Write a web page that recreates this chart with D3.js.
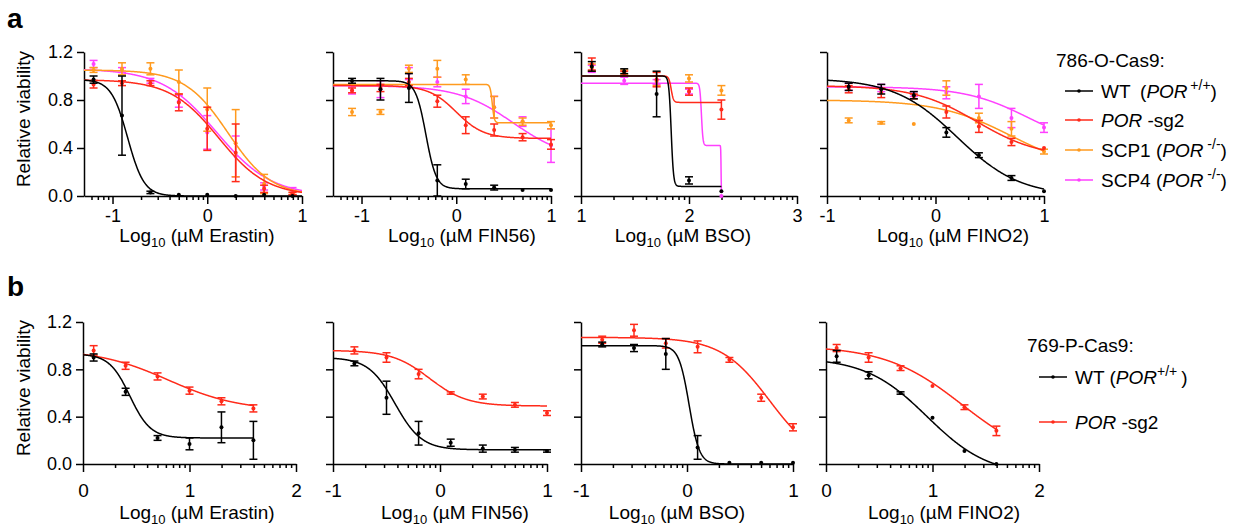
<!DOCTYPE html>
<meta charset="utf-8">
<script src="https://d3js.org/d3.v7.min.js"></script>
<style>
body { margin: 0; background: #fff; }
text { font-family: "Liberation Sans", Arial, sans-serif; fill: #000; }
.axis path, .axis line { stroke: #000; stroke-width: 1.5px; }
.axis text { font-family: "Liberation Sans", Arial, sans-serif; font-size: 18px; fill: #000; }
.curve { fill: none; stroke-width: 1.5px; }
.bar { stroke-width: 1.5px; }
</style>
<body>
<script>

// series names and colours
var seriesNames = ["WT", "POR-sg2", "SCP1", "SCP4"];
var seriesColors = ["#000000", "#ff2a1a", "#ff9a1e", "#ff40ff"];
var yTicks = [0, 0.4, 0.8, 1.2];

// ---- a: 786-O-Cas9, Erastin ----
var a1X = [-1.2, -0.9, -0.6, -0.3, 0, 0.3, 0.6, 0.9];
var a1Mean = [
  [0.97, 0.67, 0.03, 0.01, 0.01, 0.0, 0.01, 0.0],
  [0.93, 0.94, 0.94, 0.78, 0.56, 0.36, 0.06, 0.02],
  [1.05, 1.06, 1.06, 0.95, 0.72, 0.44, 0.10, 0.02],
  [1.10, 1.05, 0.96, 0.79, 0.53, 0.33, 0.08, 0.04]];
var a1Sd = [
  [0.03, 0.33, 0.01, 0, 0, 0, 0, 0],
  [0.03, 0.02, 0.02, 0.07, 0.18, 0.24, 0.03, 0.01],
  [0.02, 0.05, 0.05, 0.10, 0.18, 0.28, 0.08, 0.01],
  [0.03, 0.02, 0.02, 0.05, 0.14, 0.17, 0.03, 0.03]];
// top, bottom, logEC50, hill
var a1Fit = [[0.97, 0, -0.84, 5], [0.97, 0, 0.12, 1.7], [1.05, 0, 0.22, 1.9], [1.06, 0, 0.1, 1.5]];

// ---- a: FIN56 ----
var a2X = [-1.1, -0.8, -0.5, -0.2, 0.1, 0.4, 0.7, 1.0];
var a2Mean = [
  [0.96, 0.89, 0.90, 0.13, 0.10, 0.07, 0.05, 0.05],
  [0.88, 0.90, 0.95, 0.79, 0.59, 0.55, 0.49, 0.43],
  [0.70, 0.70, 1.06, 1.06, 0.97, 0.74, 0.62, 0.59],
  [0.88, 0.89, 1.02, 0.95, 0.83, 0.74, 0.62, 0.42]];
var a2Sd = [
  [0.02, 0.09, 0.12, 0.13, 0.04, 0.02, 0, 0],
  [0.02, 0.03, 0.03, 0.05, 0.07, 0.05, 0.03, 0.04],
  [0.03, 0.02, 0.03, 0.07, 0.04, 0.09, 0.03, 0.03],
  [0.03, 0.07, 0.05, 0.04, 0.06, 0.09, 0.04, 0.14]];
var a2Fit = [[0.96, 0.06, -0.32, 8], [0.92, 0.48, 0.0, 3], [0.93, 0.61, 0.38, 40], [0.92, 0.3, 0.6, 1.5]];

// ---- a: BSO ----
var a3X = [1.1, 1.4, 1.7, 2.0, 2.3];
var a3Mean = [
  [1.08, 1.04, 0.85, 0.13, 0.04],
  [1.10, 1.02, 0.97, 0.87, 0.72],
  [1.07, 1.03, 0.96, 0.98, 0.88],
  [1.06, 0.96, 0.95, 0.87, 0.0]];
var a3Sd = [
  [0.04, 0.02, 0.19, 0.03, 0],
  [0.05, 0.02, 0.06, 0.03, 0.08],
  [0.03, 0.02, 0.04, 0.03, 0.04],
  [0.03, 0.03, 0.02, 0.02, 0]];
// SCP1 not fitted; SCP4 biphasic: top, bottom, ec1, h1, fraction, ec2, h2
var a3Fit = [[1.0, 0.08, 1.835, 40], [1.0, 0.78, 1.835, 40], null, [0.94, 0, 2.115, 60, 0.553, 2.297, 300]];

// ---- a: FINO2 ----
var a4X = [-0.8, -0.5, -0.2, 0.1, 0.4, 0.7, 1.0];
var a4Mean = [
  [0.91, 0.89, 0.84, 0.53, 0.34, 0.15, 0.04],
  [0.89, 0.86, 0.83, 0.70, 0.58, 0.45, 0.40],
  [0.63, 0.61, 0.60, 0.90, 0.65, 0.56, 0.37],
  [0.91, 0.90, 0.85, 0.86, 0.83, 0.65, 0.57]];
var a4Sd = [
  [0.03, 0.04, 0.03, 0.04, 0.02, 0.02, 0],
  [0.03, 0.04, 0.02, 0.05, 0.05, 0.03, 0],
  [0.02, 0.01, 0, 0.06, 0.04, 0.06, 0.02],
  [0.03, 0.03, 0.02, 0.05, 0.10, 0.08, 0.04]];
var a4Fit = [[0.98, 0, 0.2, 1.5], [0.92, 0.32, 0.38, 1.5], [0.8, 0.2, 0.7, 1.3], [0.91, 0.4, 0.85, 1.5]];

// ---- b: 769-P-Cas9 ----
var b1X = [0.1, 0.4, 0.7, 1.0, 1.3, 1.6];
var b1Mean = [[0.90, 0.61, 0.22, 0.17, 0.31, 0.20], [0.96, 0.83, 0.74, 0.62, 0.53, 0.47]];
var b1Sd = [[0.03, 0.03, 0.02, 0.05, 0.13, 0.16], [0.04, 0.03, 0.03, 0.03, 0.03, 0.03]];
var b1Fit = [[0.93, 0.22, 0.44, 4.5], [0.97, 0.45, 0.8, 1.3]];

var b2X = [-0.8, -0.5, -0.2, 0.1, 0.4, 0.7, 1.0];
var b2Mean = [[0.85, 0.56, 0.26, 0.18, 0.13, 0.12, 0.11], [0.96, 0.90, 0.76, 0.60, 0.57, 0.50, 0.43]];
var b2Sd = [[0.02, 0.14, 0.10, 0.03, 0.03, 0.02, 0.01], [0.03, 0.04, 0.04, 0.01, 0.02, 0.02, 0.02]];
var b2Fit = [[0.9, 0.12, -0.42, 3.5], [0.96, 0.49, -0.1, 2.5]];

var b3X = [-0.8, -0.5, -0.2, 0.1, 0.4, 0.7, 1.0];
var b3Mean = [[1.01, 0.98, 0.93, 0.14, 0.01, 0.01, 0.01], [1.05, 1.13, 1.02, 0.99, 0.88, 0.56, 0.31]];
var b3Sd = [[0.02, 0.03, 0.13, 0.10, 0, 0, 0], [0.03, 0.05, 0.04, 0.05, 0.02, 0.03, 0.03]];
var b3Fit = [[1.0, 0, 0.02, 9], [1.07, 0, 0.78, 1.9]];

var b4X = [0.1, 0.4, 0.7, 1.0, 1.3, 1.6];
var b4Mean = [[0.91, 0.75, 0.60, 0.39, 0.11, 0.0], [0.98, 0.90, 0.81, 0.66, 0.48, 0.28]];
var b4Sd = [[0.05, 0.03, 0.01, 0, 0, 0], [0.03, 0.04, 0.02, 0, 0.02, 0.04]];
var b4Fit = [[0.9, -0.1, 0.95, 1.5], [1.0, 0, 1.28, 1.2]];

var rows = [{top: 52, bottom: 196, tickBase: 222, titleBase: 242, tickFont: 18},
            {top: 322, bottom: 464, tickBase: 497, titleBase: 519, tickFont: 19}];

var panels = [
  {row: 0, x0: 84, x1: 302, dom: [-1.301, 1], fit: [-1.301, 1], majors: [-1, 0, 1], drug: "Erastin", tx: 197, xs: a1X, mean: a1Mean, sd: a1Sd, fits: a1Fit},
  {row: 0, x0: 333, x1: 551, dom: [-1.301, 1], fit: [-1.301, 1], majors: [-1, 0, 1], drug: "FIN56", tx: 462, xs: a2X, mean: a2Mean, sd: a2Sd, fits: a2Fit},
  {row: 0, x0: 581, x1: 797, dom: [1, 3], fit: [1, 2.3], majors: [1, 2, 3], drug: "BSO", tx: 683, xs: a3X, mean: a3Mean, sd: a3Sd, fits: a3Fit},
  {row: 0, x0: 827, x1: 1044, dom: [-1, 1], fit: [-1, 1], majors: [-1, 0, 1], drug: "FINO2", tx: 953, xs: a4X, mean: a4Mean, sd: a4Sd, fits: a4Fit},
  {row: 1, x0: 83, x1: 296, dom: [0, 2], fit: [0, 1.6], majors: [0, 1, 2], drug: "Erastin", tx: 197, xs: b1X, mean: b1Mean, sd: b1Sd, fits: b1Fit},
  {row: 1, x0: 333, x1: 547, dom: [-1, 1], fit: [-1, 1], majors: [-1, 0, 1], drug: "FIN56", tx: 455, xs: b2X, mean: b2Mean, sd: b2Sd, fits: b2Fit},
  {row: 1, x0: 581, x1: 793, dom: [-1, 1], fit: [-1, 1], majors: [-1, 0, 1], drug: "BSO", tx: 677, xs: b3X, mean: b3Mean, sd: b3Sd, fits: b3Fit},
  {row: 1, x0: 826, x1: 1039, dom: [0, 2], fit: [0, 1.6], majors: [0, 1, 2], drug: "FINO2", tx: 944, xs: b4X, mean: b4Mean, sd: b4Sd, fits: b4Fit}
];

var width = 1240, height = 529;
var svg = d3.select("body").append("svg")
    .attr("width", width)
    .attr("height", height);

function model(p, x) {
  if (p.length == 4)
    return p[1] + (p[0] - p[1]) / (1 + Math.pow(10, (x - p[2]) * p[3]));
  // biphasic
  return p[1] + (p[0] - p[1]) * (p[4] / (1 + Math.pow(10, (x - p[2]) * p[3])) +
         (1 - p[4]) / (1 + Math.pow(10, (x - p[5]) * p[6])));
}

function minorTicks(dom) {
  var out = [];
  for (var d = Math.floor(dom[0]) - 1; d <= Math.ceil(dom[1]); d++) {
    for (var k = 2; k <= 9; k++) {
      var v = d + Math.log10(k);
      if (v >= dom[0] - 1e-6 && v <= dom[1] + 1e-6) out.push(v);
    }
  }
  return out;
}

panels.forEach(function(p, pi) {
  var r = rows[p.row];
  var x = d3.scaleLinear().domain(p.dom).range([p.x0, p.x1]);
  var y = d3.scaleLinear().domain([0, 1.2]).range([r.bottom, r.top]).clamp(true);
  var g = svg.append("g");
  var first = (pi % 4 == 0);

  // y axis
  g.append("g").attr("class", "axis")
      .attr("transform", "translate(" + p.x0 + ",0)")
      .call(d3.axisLeft(y).tickValues(yTicks).tickSize(7).tickSizeOuter(0).tickPadding(4)
          .tickFormat(first ? d3.format(".1f") : function() { return ""; }));

  // x axis, major then minor ticks
  var xa = g.append("g").attr("class", "axis")
      .attr("transform", "translate(0," + r.bottom + ")")
      .call(d3.axisBottom(x).tickValues(p.majors).tickSize(8).tickSizeOuter(0)
          .tickFormat(function(d) { return String(d); }));
  xa.selectAll("text").attr("dy", null).attr("y", r.tickBase - r.bottom)
      .style("font-size", r.tickFont + "px");
  g.append("g").attr("class", "axis")
      .attr("transform", "translate(0," + r.bottom + ")")
      .call(d3.axisBottom(x).tickValues(minorTicks(p.dom)).tickSize(4).tickSizeOuter(0)
          .tickFormat(function() { return ""; }))
      .call(function(s) { s.select(".domain").remove(); });

  // x title
  var t = g.append("text")
      .attr("x", p.tx).attr("y", r.titleBase)
      .attr("text-anchor", "middle")
      .attr("font-size", 19);
  t.append("tspan").text("Log");
  t.append("tspan").attr("dy", 5).attr("font-size", 13).text("10");
  t.append("tspan").attr("dy", -5).text(" (\u00b5M " + p.drug + ")");

  if (first) {
    g.append("text")
        .attr("transform", "translate(30," + ((r.top + r.bottom) / 2 - 5) + ") rotate(-90)")
        .attr("text-anchor", "middle")
        .attr("font-size", 19)
        .text("Relative viability");
  }

  var line = d3.line()
      .x(function(d) { return x(d[0]); })
      .y(function(d) { return y(d[1]); });

  // draw last series first, so WT ends on top
  for (var s = p.mean.length - 1; s >= 0; s--) {
    var col = seriesColors[s];
    if (p.fits[s]) {
      var fp = p.fits[s];
      var pts = d3.range(0, 601).map(function(i) {
        var xv = p.fit[0] + (p.fit[1] - p.fit[0]) * i / 600;
        return [xv, model(fp, xv)];
      });
      g.append("path").attr("class", "curve")
          .attr("stroke", col)
          .attr("d", line(pts));
    }
    var rowsData = p.xs.map(function(xv, i) {
      return {x: xv, m: p.mean[s][i], sd: p.sd[s][i]};
    });
    var bars = g.append("g").attr("stroke", col).attr("class", "bar");
    rowsData.filter(function(d) { return d.sd > 0; }).forEach(function(d) {
      var cx = x(d.x), y1 = y(d.m + d.sd), y2 = y(d.m - d.sd);
      bars.append("line").attr("x1", cx).attr("x2", cx).attr("y1", y1).attr("y2", y2);
      bars.append("line").attr("x1", cx - 4).attr("x2", cx + 4).attr("y1", y1).attr("y2", y1);
      bars.append("line").attr("x1", cx - 4).attr("x2", cx + 4).attr("y1", y2).attr("y2", y2);
    });
    g.append("g").selectAll("circle")
        .data(rowsData)
        .enter().append("circle")
        .attr("cx", function(d) { return x(d.x); })
        .attr("cy", function(d) { return y(d.m); })
        .attr("r", 2)
        .attr("fill", col);
  }
});

// panel letters
svg.append("text").attr("x", 7).attr("y", 28).attr("font-size", 28).attr("font-weight", "bold").text("a");
svg.append("text").attr("x", 7).attr("y", 296).attr("font-size", 28).attr("font-weight", "bold").text("b");

// legends
function legendItem(x, yy, col, parts, textX) {
  svg.append("line").attr("x1", x).attr("x2", x + 28).attr("y1", yy).attr("y2", yy)
      .attr("stroke", col).attr("stroke-width", 1.5);
  svg.append("circle").attr("cx", x + 14).attr("cy", yy).attr("r", 1.8).attr("fill", col);
  var t = svg.append("text").attr("x", textX).attr("y", yy + 7).attr("font-size", 19);
  var shift = 0;
  parts.forEach(function(pt) {
    var ts = t.append("tspan").text(pt[0]);
    if (pt[1] == "i") ts.attr("font-style", "italic");
    if (pt[1] == "sup") { ts.attr("font-size", 14).attr("dy", -8); shift = 8; }
    else if (shift) { ts.attr("dy", shift); shift = 0; }
  });
}

svg.append("text").attr("x", 1056).attr("y", 67).attr("font-size", 19).text("786-O-Cas9:");
var legendA = [
  [["WT\u2002(", ""], ["POR", "i"], ["\u2009+/+", "sup"], [")", ""]],
  [["POR", "i"], [" -sg2", ""]],
  [["SCP1 (", ""], ["POR", "i"], [" -/-", "sup"], [")", ""]],
  [["SCP4 (", ""], ["POR", "i"], [" -/-", "sup"], [")", ""]]
];
var legendAY = [91, 120, 150, 180];
legendA.forEach(function(parts, i) {
  legendItem(1065, legendAY[i], seriesColors[i], parts, 1101);
});

svg.append("text").attr("x", 1027).attr("y", 352).attr("font-size", 19).text("769-P-Cas9:");
var legendB = [
  [["WT (", ""], ["POR", "i"], ["+/+ ", "sup"], [")", ""]],
  [["POR", "i"], [" -sg2", ""]]
];
var legendBY = [377, 422];
legendB.forEach(function(parts, i) {
  legendItem(1039, legendBY[i], seriesColors[i], parts, 1075);
});

</script>
</body>
